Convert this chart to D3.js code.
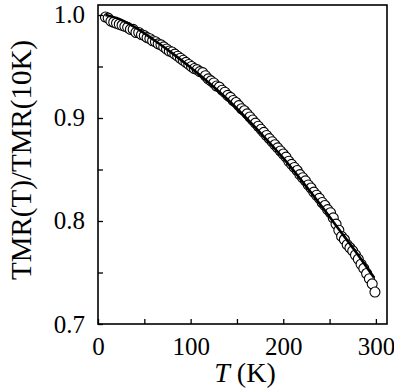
<!DOCTYPE html>
<html><head><meta charset="utf-8">
<script src="https://cdn.jsdelivr.net/npm/d3@7"></script>
<style>
html,body{margin:0;padding:0;background:#fff;}
svg{display:block;}
</style></head>
<body>
<script>
// Measured data (open circles)
const dataT = [8,11,14,17,20,23,26,29,32,35,38,41,44,47,50,53,56,59,62,65,68,71,74,77,80,83,86,89,92,95,98,101,104,107,110,113,116,119,122,125,128,131,134,137,140,143,146,149,152,155,158,161,164,167,170,173,176,179,182,185,188,191,194,197,200,203,206,209,212,215,218,221,224,227,230,233,236,239,242,245,248,251,254,257,260,263,266,269,272,275,278,281,284,287,290,293,296,299];
const dataV = [0.998,0.997,0.994,0.993,0.992,0.991,0.990,0.989,0.988,0.986,0.986,0.983,0.983,0.981,0.980,0.978,0.977,0.975,0.974,0.972,0.971,0.969,0.967,0.965,0.964,0.962,0.960,0.958,0.956,0.954,0.952,0.950,0.948,0.947,0.945,0.944,0.941,0.938,0.936,0.934,0.931,0.930,0.927,0.925,0.922,0.920,0.917,0.915,0.912,0.909,0.907,0.904,0.901,0.898,0.895,0.892,0.889,0.886,0.883,0.880,0.877,0.874,0.871,0.868,0.865,0.862,0.858,0.855,0.852,0.849,0.845,0.842,0.839,0.835,0.832,0.828,0.825,0.822,0.818,0.815,0.811,0.808,0.803,0.797,0.791,0.785,0.782,0.777,0.774,0.771,0.767,0.763,0.758,0.754,0.749,0.744,0.739,0.731];
// Fit curve (solid line)
const fitT = [8,20,40,60,80,100,120,140,160,180,200,220,240,260,280,298];
const fitV = [1.000,0.997,0.988,0.976,0.963,0.949,0.934,0.918,0.900,0.881,0.861,0.839,0.816,0.792,0.768,0.745];
// Ticks
const xMajor = [0,100,200,300];
const xMinor = [50,150,250];
const yMajor = [0.7,0.8,0.9,1.0];
const yMinor = [0.75,0.85,0.95];

const FONT = "Liberation Serif";
const W = 394, H = 389;
const L = 98, R = 387, T = 5, B = 324;
const x = d3.scaleLinear().domain([0,312]).range([L,R]);
const y = d3.scaleLinear().domain([0.7,1.0097]).range([B,T]);

const svg = d3.select("body").append("svg").attr("width",W).attr("height",H);

// markers
const pts = dataT.map((t,i)=>({t, v:dataV[i]}));
svg.append("g").selectAll("circle").data(pts).join("circle")
  .attr("cx",d=>x(d.t)).attr("cy",d=>y(d.v)).attr("r",5)
  .attr("fill","#fff").attr("stroke","#000").attr("stroke-width",1.1);

// fit line
const fit = fitT.map((t,i)=>({t, v:fitV[i]}));
svg.append("path").datum(fit)
  .attr("d", d3.line().x(d=>x(d.t)).y(d=>y(d.v)).curve(d3.curveMonotoneX))
  .attr("fill","none").attr("stroke","#000").attr("stroke-width",2.6);

// frame
svg.append("rect").attr("x",L).attr("y",T).attr("width",R-L).attr("height",B-T)
  .attr("fill","none").attr("stroke","#000").attr("stroke-width",1.6);

// axes (inward ticks)
const xAxis = d3.axisBottom(x).tickValues(xMajor).tickSize(-5).tickPadding(13).tickFormat(d3.format("d"));
const gx = svg.append("g").attr("transform",`translate(0,${B})`).call(xAxis);
gx.select(".domain").remove();
gx.selectAll(".tick line").attr("stroke","#000").attr("stroke-width",1.3);
const gxm = svg.append("g").attr("transform",`translate(0,${B})`)
  .call(d3.axisBottom(x).tickValues(xMinor).tickSize(-5).tickFormat(""));
gxm.select(".domain").remove();
gxm.selectAll(".tick line").attr("stroke","#000").attr("stroke-width",1.3);

const yAxis = d3.axisLeft(y).tickValues(yMajor).tickSize(-5).tickPadding(13).tickFormat(d3.format(".1f"));
const gy = svg.append("g").attr("transform",`translate(${L},0)`).call(yAxis);
gy.select(".domain").remove();
gy.selectAll(".tick line").attr("stroke","#000").attr("stroke-width",1.3);
const gym = svg.append("g").attr("transform",`translate(${L},0)`)
  .call(d3.axisLeft(y).tickValues(yMinor).tickSize(-5).tickFormat(""));
gym.select(".domain").remove();
gym.selectAll(".tick line").attr("stroke","#000").attr("stroke-width",1.3);

// axis titles
const xt = svg.append("text").attr("x",245).attr("y",382).attr("text-anchor","middle").attr("font-size",28);
xt.append("tspan").attr("font-style","italic").text("T");
xt.append("tspan").text(" (K)");

svg.append("text").attr("transform","translate(31,160) rotate(-90)")
  .attr("text-anchor","middle").attr("font-size",29).text("TMR(T)/TMR(10K)");

svg.selectAll("text").style("font-family",FONT).attr("fill","#000");
svg.selectAll(".tick text").attr("font-size",25);
</script>
</body></html>
